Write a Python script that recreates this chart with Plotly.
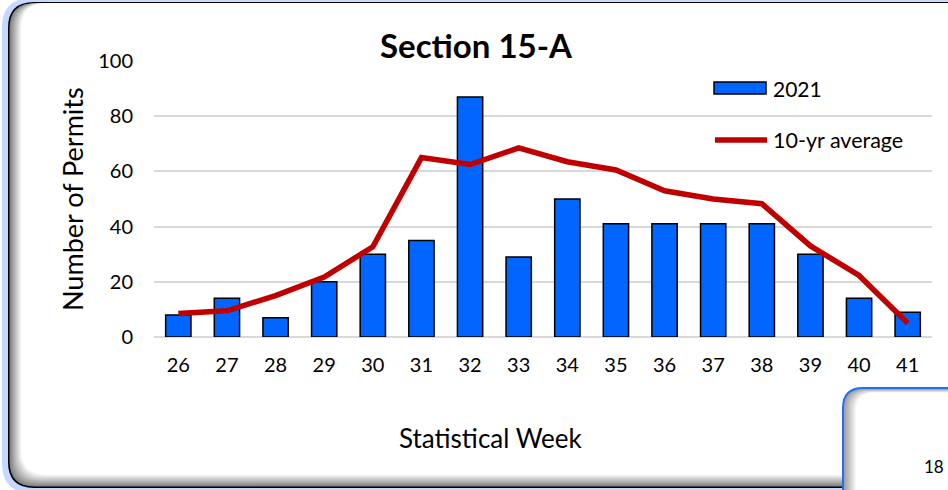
import plotly.graph_objects as go

# ---- data ----
weeks = [str(w) for w in range(26, 42)]
permits_2021 = [8, 14, 7, 20, 30, 35, 87, 29, 50, 41, 41, 41, 41, 30, 14, 9]
ten_yr_avg = [8.5, 9.5, 15, 21.7, 32.7, 65, 62.5, 68.5, 63.5, 60.5, 53, 50, 48.3, 33, 22.3, 5]

W, H = 948, 490
L, R, T, B = 154, 16, 61, 153
PW, PH = W - L - R, H - T - B
FONT = "Lato"
BLUE = "#0066ff"
RED = "#c00000"


def px(x):
    return (x - L) / PW


def py(y):
    return (H - B - y) / PH


def rrect(x0, y0, x1, y1, r):
    """Rounded rectangle path in paper coords, built from pixel coords."""
    pts = [
        ("M", x0 + r, y0), ("L", x1 - r, y0), ("Q", x1, y0, x1, y0 + r),
        ("L", x1, y1 - r), ("Q", x1, y1, x1 - r, y1), ("L", x0 + r, y1),
        ("Q", x0, y1, x0, y1 - r), ("L", x0, y0 + r), ("Q", x0, y0, x0 + r, y0),
    ]
    out = []
    for p in pts:
        cmd, coords = p[0], p[1:]
        xy = []
        for i in range(0, len(coords), 2):
            xy.append(f"{px(coords[i]):.5f},{py(coords[i + 1]):.5f}")
        out.append(cmd + " ".join(xy))
    return " ".join(out) + " Z"


def grey(t):
    v = int(130 + (255 - 130) * t)
    return f"rgb({v},{v},{v})"


shapes = []
# outer frame: blue glow, black border, inner shadow on left/bottom
shapes.append(dict(type="path", path=rrect(2, -2, 990, 493, 30),
                   fillcolor="#c6d8ff", line=dict(width=0), layer="below",
                   xref="paper", yref="paper"))
shapes.append(dict(type="path", path=rrect(8, 2, 990, 488, 26),
                   fillcolor="black", line=dict(width=0), layer="below",
                   xref="paper", yref="paper"))
n = 14
for i in range(1, n + 1):
    shapes.append(dict(type="path", path=rrect(8 + i * 0.9 + 0.6, 3.2, 990, 487.4 - i * 0.9, 25),
                       fillcolor=grey((i - 1) / (n - 1)), line=dict(width=0), layer="below",
                       xref="paper", yref="paper"))

# small box at the bottom right
shapes.append(dict(type="path", path=rrect(843, 388, 1000, 520, 20),
                   fillcolor=grey(0.25), line=dict(color="#1f6fff", width=2), layer="below",
                   xref="paper", yref="paper"))
m = 12
for i in range(1, m + 1):
    shapes.append(dict(type="path", path=rrect(844 + i, 389 + i * 0.3, 1000, 520, 19),
                       fillcolor=grey(0.25 + 0.75 * i / m), line=dict(width=0), layer="below",
                       xref="paper", yref="paper"))

# legend keys
shapes.append(dict(type="rect", x0=px(714), x1=px(766), y0=py(82), y1=py(94),
                   xref="paper", yref="paper", fillcolor=BLUE,
                   line=dict(color="black", width=1.5)))
shapes.append(dict(type="line", x0=px(715), x1=px(767), y0=py(140), y1=py(140),
                   xref="paper", yref="paper", line=dict(color=RED, width=5.5)))

fig = go.Figure()
fig.add_trace(go.Bar(
    x=weeks, y=permits_2021, name="2021",
    marker=dict(color=BLUE, line=dict(color="black", width=1.5)),
))
fig.add_trace(go.Scatter(
    x=weeks, y=ten_yr_avg, name="10-yr average", mode="lines",
    line=dict(color=RED, width=5.5),
))

annotations = [
    dict(text="2021", x=px(771), y=py(88), xanchor="left", yanchor="middle",
         font=dict(size=21)),
    dict(text="10-yr average", x=px(771), y=py(140), xanchor="left", yanchor="middle",
         font=dict(size=21.5)),
    dict(text="Number of Permits", x=px(72), y=py(199), textangle=-90,
         xanchor="center", yanchor="middle", font=dict(size=27)),
    dict(text="Statistical Week", x=px(491), y=py(438), xanchor="center",
         yanchor="middle", font=dict(size=26)),
    dict(text="18", x=px(946), y=py(467), xanchor="right", yanchor="middle",
         font=dict(size=17)),
]
for a in annotations:
    a.update(xref="paper", yref="paper", showarrow=False)

fig.update_layout(
    width=W, height=H,
    margin=dict(l=L, r=R, t=T, b=B),
    paper_bgcolor="white", plot_bgcolor="rgba(0,0,0,0)",
    font=dict(family=FONT, color="black", size=20),
    title=dict(text="<b>Section 15-A</b>", xref="container", yref="container",
               x=476 / W, y=1 - 46 / H, xanchor="center", yanchor="middle",
               font=dict(size=33)),
    showlegend=False,
    bargap=0.48,
    shapes=shapes,
    annotations=annotations,
)
fig.update_xaxes(range=[-0.5, 15.5], showgrid=False, showline=False,
                 ticklabelstandoff=14, tickfont=dict(size=20))
fig.update_yaxes(range=[0, 100], dtick=20, gridcolor="#d9d9d9", gridwidth=1.5,
                 zeroline=True, zerolinecolor="#d9d9d9", zerolinewidth=1.5,
                 showline=False, ticklabelstandoff=20, tickfont=dict(size=20))

fig.write_html("out.html", config={"displayModeBar": False},
               post_script="document.body.style.margin='0';")
